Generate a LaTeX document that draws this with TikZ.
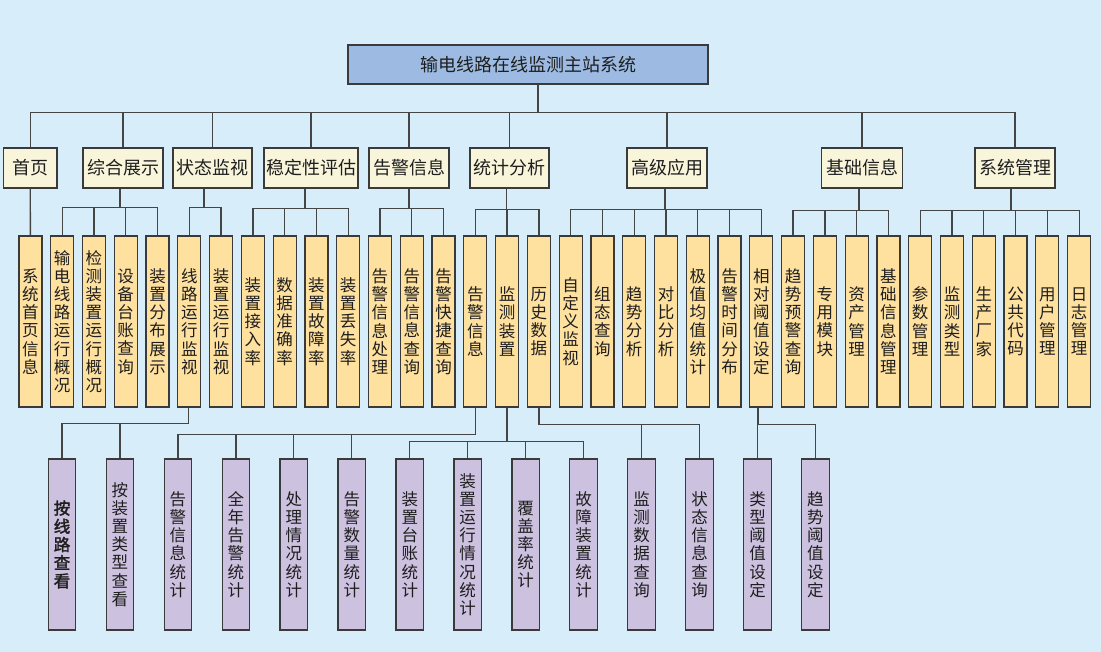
\documentclass[tikz,border=0pt]{standalone}
\usepackage{fontspec}
\setmainfont{Noto Sans CJK SC}
\newfontfamily\cjkb[FakeBold=2]{Noto Sans CJK SC}
\definecolor{bgc}{HTML}{D7EEFA}
\definecolor{rootc}{HTML}{9DBBE2}
\definecolor{lonec}{HTML}{F8F5DB}
\definecolor{ltwoc}{HTML}{FEE09F}
\definecolor{lthreec}{HTML}{CCC1DF}
\definecolor{edgec}{HTML}{3A3A3A}
\definecolor{linec}{HTML}{454545}
\definecolor{txtc}{HTML}{1E1E1E}
\makeatletter
\def\vtxt#1{\vtxt@#1\@nil}
\def\vtxt@#1#2\@nil{#1\if\relax\detokenize{#2}\relax\else\\\vtxt@#2\@nil\fi}
\makeatother
\tikzset{
  box/.style={draw=edgec, line width=1.2pt, inner sep=0pt, text=txtc},
  rootbox/.style={box, fill=rootc, minimum width=360pt, minimum height=39pt, font=\fontsize{18}{20}\selectfont},
  lone/.style={box, fill=lonec, minimum height=40pt, font=\fontsize{18}{20}\selectfont},
  ltwo/.style={box, fill=ltwoc, minimum width=23pt, minimum height=171pt, align=center, font=\fontsize{16.5}{18.2}\selectfont},
  lthree/.style={box, fill=lthreec, minimum width=27.5pt, minimum height=171pt, align=center, font=\fontsize{16.5}{18.2}\selectfont},
  conn/.style={draw=linec, line width=1.3pt}
}
\begin{document}
\begin{tikzpicture}[x=1pt, y=-1pt]
\useasboundingbox (0,0) rectangle (1101,652);
\fill[bgc] (0,0) rectangle (1101,652);

% root
\node[rootbox] (root) at (528,64.5) {输电线路在线监测主站系统};

% level 1
\node[lone, minimum width=53.4pt] (a1) at (30.3,168) {首页};
\node[lone, minimum width=80pt] (a2) at (123,168) {综合展示};
\node[lone, minimum width=79pt] (a3) at (212.5,168) {状态监视};
\node[lone, minimum width=94pt] (a4) at (311,168) {稳定性评估};
\node[lone, minimum width=80pt] (a5) at (409,168) {告警信息};
\node[lone, minimum width=79pt] (a6) at (509.5,168) {统计分析};
\node[lone, minimum width=80pt] (a7) at (667,168) {高级应用};
\node[lone, minimum width=80.5pt] (a8) at (862,168) {基础信息};
\node[lone, minimum width=80pt] (a9) at (1015,168) {系统管理};

% level 2
\foreach \t [count=\i] in {系统首页信息,输电线路运行概况,检测装置运行概况,设备台账查询,装置分布展示,线路运行监视,装置运行监视,装置接入率,数据准确率,装置故障率,装置丢失率,告警信息处理,告警信息查询,告警快捷查询,告警信息,监测装置,历史数据,自定义监视,组态查询,趋势分析,对比分析,极值均值统计,告警时间分布,相对阈值设定,趋势预警查询,专用模块,资产管理,基础信息管理,参数管理,监测类型,生产厂家,公共代码,用户管理,日志管理}
  \node[ltwo] (b\i) at ({30.4+31.78*(\i-1)},321.5) {\expandafter\vtxt\expandafter{\t}};

% level 3
\node[lthree, font=\cjkb\fontsize{16.5}{18.2}\selectfont] (p1) at (62,544.5) {\vtxt{按线路查看}};
\foreach \t [count=\j from 2] in {按装置类型查看,告警信息统计,全年告警统计,处理情况统计,告警数量统计,装置台账统计,装置运行情况统计,覆盖率统计,故障装置统计,监测数据查询,状态信息查询,类型阈值设定,趋势阈值设定}
  \node[lthree] (p\j) at ({62+57.96*(\j-1)},544.5) {\expandafter\vtxt\expandafter{\t}};

% root to level 1
\foreach \c in {a1,a2,a3,a4,a5,a6,a7,a8,a9}
  \draw[conn] ([xshift=10pt]root.south) -- ++(0,28) -| (\c.north);

% level 1 to level 2
\draw[conn] (a1.south) -- (b1.north);
\foreach \c in {b2,b3,b4,b5}
  \draw[conn] ([xshift=-3pt]a2.south) -- ++(0,19) -| (\c.north);
\foreach \c in {b6,b7}
  \draw[conn] ([xshift=-8.5pt]a3.south) -- ++(0,19) -| (\c.north);
\foreach \c in {b8,b9,b10,b11}
  \draw[conn] ([xshift=-6pt]a4.south) -- ++(0,20) -| (\c.north);
\foreach \c in {b12,b13,b14}
  \draw[conn] (a5.south) -- ++(0,20) -| (\c.north);
\foreach \c in {b15,b16,b17}
  \draw[conn] ([xshift=-3pt]a6.south) -- ++(0,21) -| (\c.north);
\foreach \c in {b18,b19,b20,b21,b22,b23,b24}
  \draw[conn] ([xshift=-2pt]a7.south) -- ++(0,21) -| (\c.north);
\foreach \c in {b25,b26,b27,b28}
  \draw[conn] ([xshift=-3pt]a8.south) -- ++(0,22) -| (\c.north);
\foreach \c in {b29,b30,b31,b32,b33,b34}
  \draw[conn] ([xshift=-4pt]a9.south) -- ++(0,22) -| (\c.north);

% level 2 to level 3
\foreach \c in {p1,p2}
  \draw[conn] ([xshift=-1pt]b6.south) -- ++(0,16) -| (\c.north);
\foreach \c in {p3,p4,p5,p6}
  \draw[conn] (b15.south) -- ++(0,27) -| (\c.north);
\foreach \c in {p7,p8,p9,p10}
  \draw[conn] (b16.south) -- ++(0,34) -| (\c.north);
\foreach \c in {p11,p12}
  \draw[conn] (b17.south) -- ++(0,17) -| (\c.north);
\foreach \c in {p13,p14}
  \draw[conn] ([xshift=-3.4pt]b24.south) -- ++(0,17) -| (\c.north);
\end{tikzpicture}
\end{document}
